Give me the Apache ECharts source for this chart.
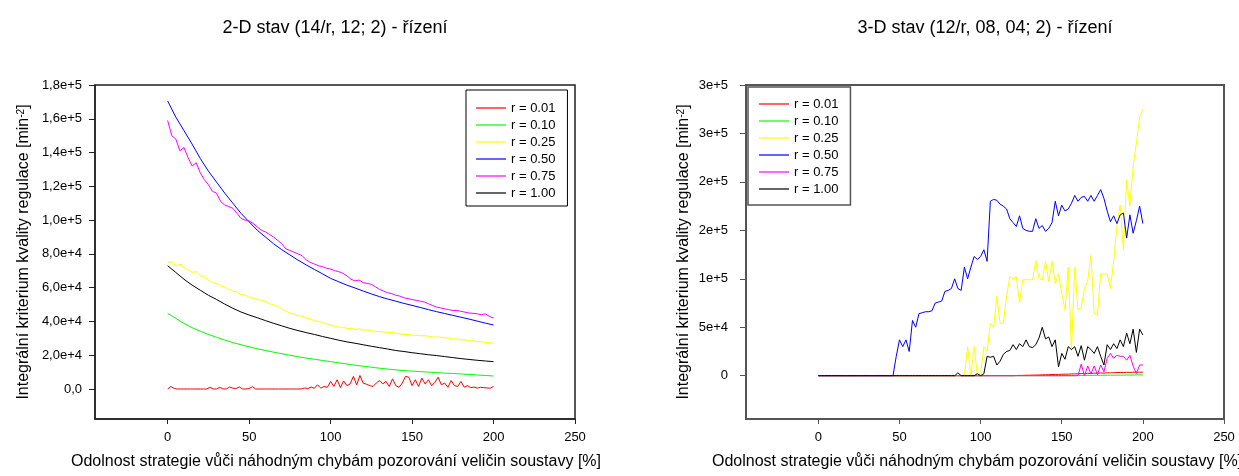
<!DOCTYPE html>
<html><head><meta charset="utf-8">
<script src="https://cdn.jsdelivr.net/npm/echarts@6/dist/echarts.min.js"></script>
<style>html,body{margin:0;padding:0;background:#fff}#c{width:1239px;height:476px}</style>
</head><body><div id="c"></div>
<script>
const FONT = '"Liberation Sans", Arial, Helvetica, sans-serif';

// ---------- labels ----------
const seriesNames = ['r = 0.01', 'r = 0.10', 'r = 0.25', 'r = 0.50', 'r = 0.75', 'r = 1.00'];
const seriesColors = ['#ff0000', '#00ff00', '#ffff00', '#0000ff', '#ff00ff', '#000000'];
const title2D = '2-D stav (14/r, 12; 2) - řízení';
const title3D = '3-D stav (12/r, 08, 04; 2) - řízení';
const xTitle = 'Odolnost strategie vůči náhodným chybám pozorování veličin soustavy [%]';
const yTitleMain = 'Integrální kriterium kvality regulace [min';
const yTitleSup = '-2';

const xTicks = [0, 50, 100, 150, 200, 250];
const yTicks2D = [0, 20000, 40000, 60000, 80000, 100000, 120000, 140000, 160000, 180000];
const yLabels2D = ['0,0', '2,0e+4', '4,0e+4', '6,0e+4', '8,0e+4', '1,0e+5', '1,2e+5', '1,4e+5', '1,6e+5', '1,8e+5'];
const yTicks3D = [0, 50000, 100000, 150000, 200000, 250000, 300000];
const yLabels3D = ['0', '5e+4', '1e+5', '2e+5', '2e+5', '3e+5', '3e+5'];

// ---------- 2-D chart data (x = 0..200) ----------
// red: x step 2
const red2D = [
  0,1500,300,0,0,0,0,0,0,0,
  0,0,0,1000,0,0,1000,0,0,1200,
  500,300,1200,0,0,300,1400,0,0,0,
  0,0,0,0,0,0,0,0,0,0,
  0,0,600,200,1200,400,2500,500,1500,1000,
  4500,1500,5500,800,4800,2000,3000,7500,2500,8000,
  3500,2800,2000,1500,3500,5000,3000,4500,1500,6000,
  2000,1000,3500,7500,7000,2000,5500,1500,6500,3000,
  5500,2000,4000,7000,2500,3500,1000,5000,2000,1500,
  4500,1000,2000,800,1200,500,1000,800,600,500,
  1500];
// green: x step 5
const green2D = [
  44800,41800,38800,36300,34200,32300,30600,29000,27500,26200,
  25000,23800,22800,21800,20900,20000,19100,18300,17600,16900,
  16200,15500,14800,14100,13500,12900,12300,11800,11300,10900,
  10600,10300,10000,9700,9400,9200,8900,8600,8300,8000,
  7700];
// yellow: x step 2.5
const yellow2D = [
  74800,75500,73000,74000,72000,70500,69000,69500,67000,66500,
  64500,63000,62500,61000,60500,59000,58000,57500,56000,55500,
  54500,53800,53000,52500,51800,50500,49800,49000,47500,46000,
  45000,44500,43500,43000,42000,41500,40500,40000,39300,38500,
  38000,37200,36500,36700,35800,35900,35300,35600,34800,35000,
  34500,34200,33800,33900,33400,33500,33000,32600,32200,32300,
  31800,31900,31500,31600,31200,30900,30700,30800,30200,30100,
  29600,29700,29000,29100,28500,28600,28000,27900,27600,27400,
  27000];
// blue: x step 5
const blue2D = [
  170500,161000,153000,145000,136500,129000,122500,116000,110000,104000,
  99000,94000,90000,86000,82500,79400,76300,73500,70800,68200,
  65500,63500,61500,59800,58000,56300,54700,53300,52000,50700,
  49500,48300,47000,45800,44700,43600,42500,41400,40200,39000,
  37900];
// magenta: x step 2.5
const magenta2D = [
  159000,150000,148000,141000,143000,137000,132000,134000,128000,124000,
  121000,117000,116000,111000,109000,108000,107000,104000,101000,100000,
  99500,98000,96000,94000,93000,91500,90000,88000,86000,83000,
  82000,81000,80000,79000,76500,75000,74000,73000,72500,71500,
  71000,70000,69500,68500,67000,65000,64000,64500,63000,62500,
  62000,60500,59000,58000,57000,56500,55500,55000,54000,53500,
  53000,52500,52000,51500,50500,49500,48500,48000,47500,47000,
  46500,46500,46000,45500,45000,44800,44500,44000,44500,43000,
  42000];
// black: x step 5
const black2D = [
  73000,69000,65000,61500,58500,55500,53000,50300,47800,45600,
  43800,42200,40500,38900,37400,35900,34600,33400,32300,31100,
  30000,28900,27900,27100,26200,25300,24500,23700,22800,22200,
  21500,20900,20300,19800,19200,18600,18000,17500,17000,16600,
  16200];

// ---------- 3-D chart data (x = 0..200, step 2) ----------
const red3D = [
  0,0,0,0,0,0,0,0,0,0, 0,0,0,0,0,0,0,0,0,0,
  0,0,0,0,0,0,0,0,0,0, 0,0,0,0,0,0,0,0,0,0,
  0,0,0,0,0,0,0,0,0,0, 0,0,0,0,0,0,0,0,0,0,
  0,200,300,300,500,500,600,700,700,900,
  1000,1000,1200,1300,1300,1500,1600,1600,1800,1900,
  2000,2200,2100,2400,2300,2600,2500,2800,2700,3000,
  2900,3100,3200,3300,3200,3500,3400,3600,3700,3600,
  3700];
const green3D = [
  0,0,0,0,0,0,0,0,0,0, 0,0,0,0,0,0,0,0,0,0,
  0,0,0,0,0,0,0,0,0,0, 0,0,0,0,0,0,0,0,0,0,
  0,0,0,0,0,0,0,0,0,0, 0,0,0,0,0,0,0,0,0,0,
  0,0,0,0,0,0,0,0,0,0, 0,0,0,0,0,0,0,0,0,0,
  200,200,300,300,300,400,400,400,500,500,
  500,500,600,600,600,700,700,700,800,800,
  800];
const yellow3D = [
  0,0,0,0,0,0,0,0,0,0, 0,0,0,0,0,0,0,0,0,0,
  0,0,0,0,0,0,0,0,0,0, 0,0,0,0,0,0,0,0,0,0,
  0,0,0,0,0,0,30000,0,30000,0,
  2000,30000,25000,54000,50000,82000,54000,54000,82000,102000,
  100000,102000,75000,99000,99000,99000,99000,119000,100000,99000,
  118000,97000,118000,95000,105000,85000,68000,112000,26000,112000,
  68000,70000,90000,98000,124000,64000,63000,105000,105000,105000,
  90000,118000,154000,176000,130000,202000,175000,216000,240000,267000,
  275000];
const blue3D = [
  0,0,0,0,0,0,0,0,0,0, 0,0,0,0,0,0,0,0,0,0,
  0,0,0,0,20000,37000,30000,37000,25000,57000,
  50000,64000,65000,66000,66000,67000,75000,76000,77000,87000,
  88000,90000,100000,90000,88000,112000,100000,112000,123000,120000,
  123000,130000,118000,180000,182000,181000,177000,175000,172000,162000,
  158000,154000,165000,152000,150000,149000,149000,162000,152000,155000,
  149000,152000,158000,180000,165000,176000,170000,172000,178000,186000,
  180000,184000,185000,180000,186000,180000,186000,192000,183000,170000,
  159000,165000,157000,166000,168000,142000,166000,147000,160000,175000,
  157000];
const magenta3D = [
  0,0,0,0,0,0,0,0,0,0, 0,0,0,0,0,0,0,0,0,0,
  0,0,0,0,0,0,0,0,0,0, 0,0,0,0,0,0,0,0,0,0,
  0,0,0,0,0,0,0,0,0,0, 0,0,0,0,0,0,0,0,0,0,
  0,0,0,0,0,0,0,0,0,0, 0,0,0,0,0,0,0,0,0,0,
  0,12000,0,10000,2000,10000,1000,11000,4000,18000,
  23000,18000,21000,20000,20000,16000,21000,10000,2000,11000,
  11000];
const black3D = [
  0,0,0,0,0,0,0,0,0,0, 0,0,0,0,0,0,0,0,0,0,
  0,0,0,0,0,0,0,0,0,0, 0,0,0,0,0,0,0,0,0,0,
  0,0,0,3000,0,0,0,0,0,2000,
  0,2000,20000,19000,20000,11000,15000,22000,25000,26000,
  32000,27000,33000,30000,37000,30000,29000,32000,39000,50000,
  38000,40000,30000,37000,9000,23000,17000,30000,27000,30000,
  20000,31000,16000,30000,27000,23000,30000,20000,11000,32000,
  27000,33000,28000,37000,30000,44000,33000,48000,24000,48000,
  42000];

// x step of each array
const steps2D = [2, 5, 2.5, 5, 2.5, 5];
const data2D = [red2D, green2D, yellow2D, blue2D, magenta2D, black2D];
const data3D = [red3D, green3D, yellow3D, blue3D, magenta3D, black3D];

function pairs(arr, step) { return arr.map((v, i) => [i * step, v]); }

const chart = echarts.init(document.getElementById('c'), null, { renderer: 'canvas' });

function yName() {
  return '{t|' + yTitleMain + '}{s|' + yTitleSup + '}{t|]}';
}
const yNameStyle = {
  fontFamily: FONT, fontSize: 16, color: '#000',
  rich: {
    t: { fontFamily: FONT, fontSize: 16, color: '#000' },
    s: { fontFamily: FONT, fontSize: 10, color: '#000', verticalAlign: 'top' }
  }
};

function xAxisCfg(gi, col, w) {
  return {
    type: 'value', gridIndex: gi, min: -44.6, max: 250,
    axisLine: { show: true, onZero: false, lineStyle: { color: col, width: w } },
    axisTick: { show: true, customValues: xTicks, length: 5, lineStyle: { color: col, width: 1 } },
    axisLabel: { customValues: xTicks, fontFamily: FONT, fontSize: 13, color: '#000', margin: 12 },
    splitLine: { show: false }
  };
}

const series = [];
for (let k = 0; k < 6; k++) {
  series.push({
    name: seriesNames[k], type: 'line', xAxisIndex: 0, yAxisIndex: 0,
    data: pairs(data2D[k], steps2D[k]), symbol: 'none', showSymbol: false,
    lineStyle: { width: 1, color: seriesColors[k] }, itemStyle: { color: seriesColors[k] },
    silent: true, animation: false
  });
}
for (let k = 0; k < 6; k++) {
  series.push({
    name: seriesNames[k], type: 'line', xAxisIndex: 1, yAxisIndex: 1,
    data: pairs(data3D[k], 2), symbol: 'none', showSymbol: false,
    lineStyle: { width: 1, color: seriesColors[k] }, itemStyle: { color: seriesColors[k] },
    silent: true, animation: false
  });
}

function legendCfg(left, top, pad, col, bw) {
  return {
    left: left, top: top, orient: 'vertical', data: seriesNames,
    icon: 'rect', itemWidth: 30, itemHeight: 1.2, itemGap: 3, padding: pad,
    borderColor: col, borderWidth: bw, backgroundColor: '#fff',
    textStyle: { fontFamily: FONT, fontSize: 13, color: '#000', lineHeight: 14 },
    selectedMode: false
  };
}

const textStyleCommon = { fontFamily: FONT, fill: '#000' };

const option = {
  backgroundColor: '#fff',
  animation: false,
  textStyle: { fontFamily: FONT },
  grid: [
    { left: 95, top: 85, width: 480, height: 334, show: true, borderColor: '#222', borderWidth: 1.5, backgroundColor: 'transparent' },
    { left: 746, top: 85, width: 478, height: 334, show: true, borderColor: '#555', borderWidth: 2, backgroundColor: 'transparent' }
  ],
  xAxis: [xAxisCfg(0, '#222', 1.5), xAxisCfg(1, '#555', 2)],
  yAxis: [
    {
      type: 'value', gridIndex: 0, min: -17760, max: 180000,
      axisLine: { show: true, onZero: false, lineStyle: { color: '#222', width: 1.5 } },
      axisTick: { show: true, customValues: yTicks2D, length: 6, lineStyle: { color: '#222', width: 1 } },
      axisLabel: {
        customValues: yTicks2D, fontFamily: FONT, fontSize: 13, color: '#000', margin: 13,
        formatter: v => { const i = yTicks2D.indexOf(v); return i >= 0 ? yLabels2D[i] : ''; }
      },
      splitLine: { show: false },
      name: yName(), nameLocation: 'middle', nameGap: 63, nameRotate: 90,
      nameTextStyle: yNameStyle
    },
    {
      type: 'value', gridIndex: 1, min: -44690, max: 300000,
      axisLine: { show: true, onZero: false, lineStyle: { color: '#555', width: 2 } },
      axisTick: { show: true, customValues: yTicks3D, length: 6, lineStyle: { color: '#555', width: 1 } },
      axisLabel: {
        customValues: yTicks3D, fontFamily: FONT, fontSize: 13, color: '#000', margin: 18,
        formatter: v => { const i = yTicks3D.indexOf(v); return i >= 0 ? yLabels3D[i] : ''; }
      },
      splitLine: { show: false },
      name: yName(), nameLocation: 'middle', nameGap: 54, nameRotate: 90,
      nameTextStyle: yNameStyle
    }
  ],
  legend: [
    legendCfg(466, 90, [11, 12, 6, 10], '#000', 1),
    legendCfg(748, 87, [10, 12, 9, 11], '#555', 1.5)
  ],
  graphic: [
    { type: 'text', x: 335, y: 28, silent: true,
      style: Object.assign({ text: title2D, fontSize: 18, align: 'center', verticalAlign: 'middle' }, textStyleCommon) },
    { type: 'text', x: 985, y: 28, silent: true,
      style: Object.assign({ text: title3D, fontSize: 18, align: 'center', verticalAlign: 'middle' }, textStyleCommon) },
    { type: 'text', x: 336, y: 462, silent: true,
      style: Object.assign({ text: xTitle, fontSize: 16, align: 'center', verticalAlign: 'middle' }, textStyleCommon) },
    { type: 'text', x: 712, y: 462, silent: true,
      style: Object.assign({ text: xTitle, fontSize: 16, align: 'left', verticalAlign: 'middle' }, textStyleCommon) }
  ],
  series: series
};
chart.setOption(option);
</script>
</body></html>
